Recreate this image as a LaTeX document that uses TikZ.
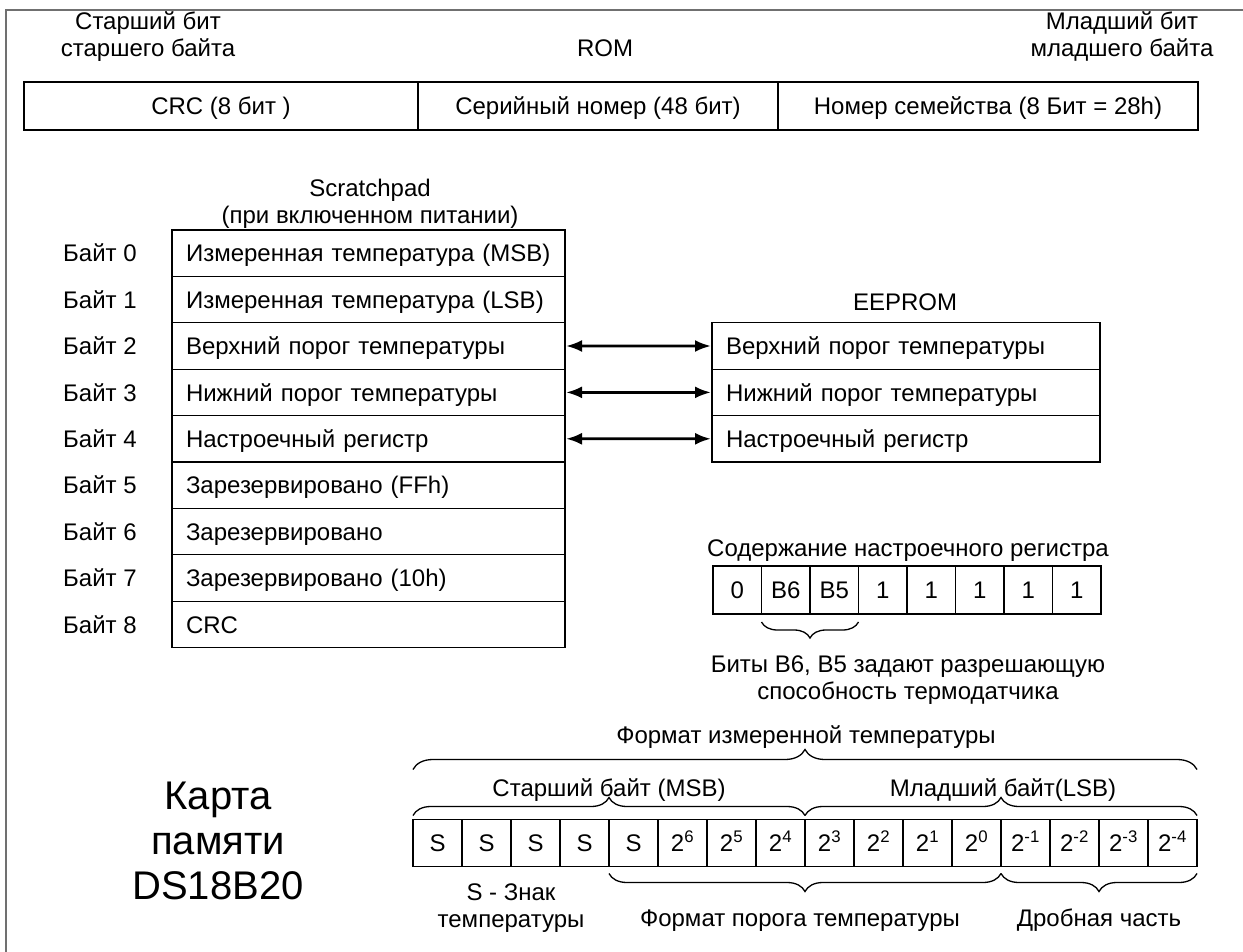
\documentclass[tikz,border=0pt]{standalone}
\usepackage{fontspec}
\setmainfont{Liberation Sans}
\usetikzlibrary{decorations.pathreplacing,arrows.meta}
\definecolor{framegray}{HTML}{707070}
\begin{document}
\begin{tikzpicture}[x=1pt,y=-1pt,
  every node/.style={inner sep=0pt,outer sep=0pt,font=\fontsize{24}{27}\selectfont},
  lbl/.style={text height=17.2pt,text depth=0pt},
  cellbox/.style={draw,line width=1.3pt,lbl,anchor=center},
  romcell/.style={cellbox,minimum height=48pt},
  sprow/.style={cellbox,minimum width=393pt,minimum height=46.4pt,text width=365pt,align=left},
  eerow/.style={cellbox,minimum width=388pt,minimum height=46.4pt,text width=360pt,align=left},
  regcell/.style={cellbox,minimum width=48.5pt,minimum height=48pt},
  bitcell/.style={cellbox,minimum width=49pt,minimum height=47pt},
  multi/.style={align=center,anchor=base},
  brc/.style={decorate,line width=1.3pt},
  bi/.style={line width=2.8pt,{Latex[length=16pt,width=12pt]}-{Latex[length=16pt,width=12pt]},shorten <=1pt,shorten >=1pt}
]
\useasboundingbox (0,0) rectangle (1243,952);
\fill[white] (0,0) rectangle (1243,952);
% frame
\coordinate (fa) at (1243,10);
\coordinate (fb) at (6,10);
\coordinate (fc) at (6,952);
\draw[framegray,line width=2pt] (fa) -- (fb) -- (fc);

% ROM
\node[multi] (hilbl) at (148,57) {Старший бит\\старшего байта};
\node[lbl] (romlbl) at (605,48) {ROM};
\node[multi] (lolbl) at (1122,57) {Младший бит\\младшего байта};
\node[romcell,minimum width=394pt] (rom1) at (221,106) {CRC (8 бит )};
\node[romcell,minimum width=360pt] (rom2) at (598,106) {Серийный номер (48 бит)};
\node[romcell,minimum width=420pt] (rom3) at (988,106) {Номер семейства (8 Бит = 28h)};

% Scratchpad
\node[multi] (sptitle) at (370,224) {Scratchpad\\(при включенном питании)};
\foreach \txt [count=\i from 0] in {Измеренная температура (MSB),Измеренная температура (LSB),Верхний порог температуры,Нижний порог температуры,Настроечный регистр,Зарезервировано (FFh),Зарезервировано,Зарезервировано (10h),CRC}{
  \node[sprow] (s\i) at (368.5,{253.2+46.4*\i}) {\txt};
  \node[lbl] (b\i lbl) at (100,{253.2+46.4*\i}) {Байт \i};
}

% EEPROM
\node[lbl] (eelbl) at (905,302) {EEPROM};
\node[eerow] (e2) at (906,346.0) {Верхний порог температуры};
\node[eerow] (e3) at (906,392.4) {Нижний порог температуры};
\node[eerow] (e4) at (906,438.8) {Настроечный регистр};
\draw[bi] (s2.east) -- (e2.west);
\draw[bi] (s3.east) -- (e3.west);
\draw[bi] (s4.east) -- (e4.west);

% configuration register
\node[lbl] (cfglbl) at (908,548) {Содержание настроечного регистра};
\foreach \v [count=\i from 0] in {0,B6,B5,1,1,1,1,1}{
  \node[regcell] (c\i) at ({737.25+48.5*\i},590) {\v};
}
\draw[brc,decoration={brace,amplitude=16pt}] ([yshift=-8pt]c2.south east) -- ([yshift=-8pt]c1.south west);
\node[multi] (cfgnote) at (908,699) {Биты B6, B5 задают разрешающую\\способность термодатчика};

% title
\node[align=center,anchor=base,font=\fontsize{40}{45}\selectfont] (title) at (218,899) {Карта\\памяти\\DS18B20};

% temperature format
\foreach \v [count=\i from 0] in {S,S,S,S,S,2\textsuperscript{6},2\textsuperscript{5},2\textsuperscript{4},2\textsuperscript{3},2\textsuperscript{2},2\textsuperscript{1},2\textsuperscript{0},2\textsuperscript{-1},2\textsuperscript{-2},2\textsuperscript{-3},2\textsuperscript{-4}}{
  \node[bitcell] (t\i) at ({437.5+49*\i},843) {\v};
}
\draw[brc,decoration={brace,amplitude=20pt}] ([yshift=50pt]t0.north west) -- ([yshift=50pt]t15.north east);
\draw[brc,decoration={brace,amplitude=18pt}] ([yshift=4pt]t0.north west) -- ([yshift=4pt]t7.north east);
\draw[brc,decoration={brace,amplitude=18pt}] ([yshift=4pt]t8.north west) -- ([yshift=4pt]t15.north east);
\draw[brc,decoration={brace,amplitude=18pt}] ([yshift=-7pt]t11.south east) -- ([yshift=-7pt]t4.south west);
\draw[brc,decoration={brace,amplitude=18pt}] ([yshift=-7pt]t15.south east) -- ([yshift=-7pt]t12.south west);
\node[lbl] (fmtall) at (806,735) {Формат измеренной температуры};
\node[lbl] (msb) at (609,788) {Старший байт (MSB)};
\node[lbl] (lsb) at (1003,788) {Младший байт(LSB)};
\node[multi] (sign) at (511,927) {S - Знак\\температуры};
\node[lbl] (thr) at (800,918) {Формат порога температуры};
\node[lbl] (frac) at (1099,918) {Дробная часть};
\end{tikzpicture}
\end{document}
